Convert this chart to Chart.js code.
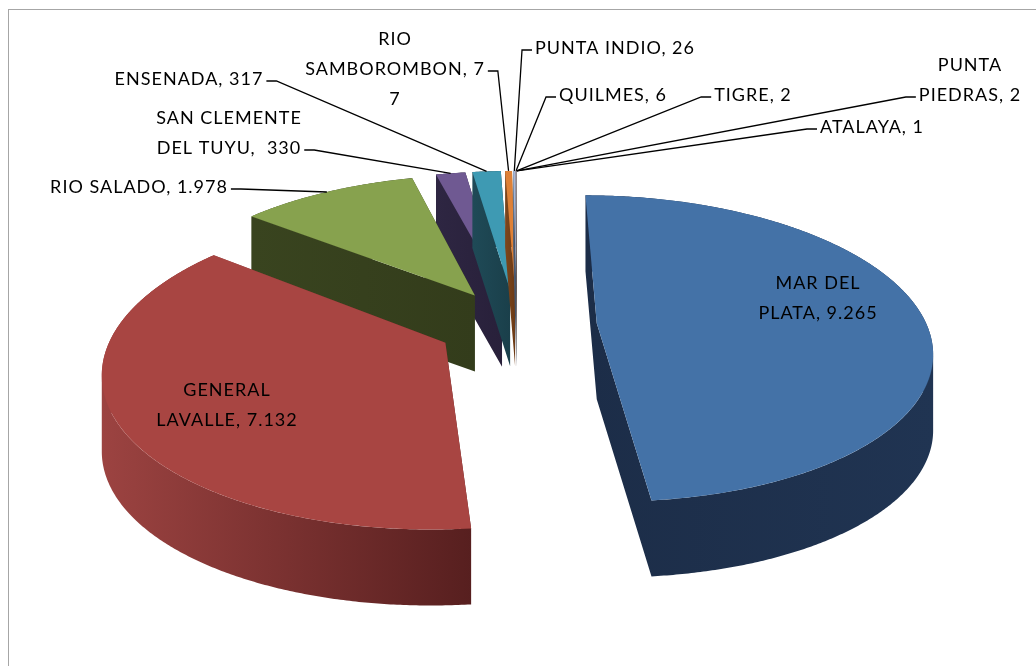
<!DOCTYPE html>
<html lang="es">
<head>
<meta charset="UTF-8">
<title>Pie 3D</title>
<style>
    html, body { margin: 0; padding: 0; overflow: hidden; background: #ffffff; }
    .frame {
        position: absolute;
        left: 8px;
        top: 9px;
        width: 1100px;
        height: 720px;
        border: 1px solid #a6a6a6;
    }
    #chart { position: absolute; left: 0; top: 0; }
</style>
</head>
<body>
<div class="frame"></div>
<canvas id="chart" width="1036" height="666"></canvas>

<script src="https://cdn.jsdelivr.net/npm/chart.js@4"></script>
<script>
// data
const places = ['MAR DEL PLATA', 'GENERAL LAVALLE', 'RIO SALADO', 'SAN CLEMENTE DEL TUYU', 'ENSENADA',
    'RIO SAMBOROMBON', 'PUNTA INDIO', 'QUILMES', 'TIGRE', 'PUNTA PIEDRAS', 'ATALAYA'];
const values = [9265, 7132, 1978, 330, 317, 77, 26, 6, 2, 2, 1];
const labelLines = [
    ['MAR DEL', 'PLATA, 9.265'],
    ['GENERAL', 'LAVALLE, 7.132'],
    ['RIO SALADO, 1.978'],
    ['SAN CLEMENTE', 'DEL TUYU,  330'],
    ['ENSENADA, 317'],
    ['RIO', 'SAMBOROMBON, 7', '7'],
    ['PUNTA INDIO, 26'],
    ['QUILMES, 6'],
    ['TIGRE, 2'],
    ['PUNTA', 'PIEDRAS, 2'],
    ['ATALAYA, 1']
];

// colours
const faceColors = ['#4472a7', '#a84542', '#87a24e', '#6f5992', '#3e9ab3', '#de8137',
    '#a5b8d8', '#c47b79', '#b4c98a', '#a596bf', '#8fc6d6'];
const wallLight = ['#1c2d48', '#9c4341', '#39441f', '#2e2642', '#1f4a57', '#7d461c',
    '#4d5d75', '#5a3231', '#4b5630', '#433a55', '#2f5863'];
const wallDark = ['#203452', '#571f1f', '#333c1b', '#28203a', '#1a3f4a', '#6a3914',
    '#404e63', '#4a2928', '#3e4828', '#382f48', '#274a53'];

// 3d look: tilt, perspective, depth and explosion
const tiltY = 0.453, persp = 0.0005, depth = 76, explode = 80;
const drawOrder = [3, 4, 5, 6, 7, 8, 9, 10, 2, 0, 1];

// label layout
const labelPos = [[818, 298], [227, 405], [139, 187], [229, 133], [189, 79], [395, 69],
    [615, 48], [613, 95], [753, 95], [970, 80], [872, 127]];
const leaderRow = [null, null, 0, 1, 0, 1, 0, 0, 0, 1, 0];
const lineGap = 30;

function shift(el) {
    const mid = (el.startAngle + el.endAngle) / 2;
    return [explode * Math.cos(mid), explode * Math.sin(mid)];
}

// library point on the flat pie -> point on the tilted, exploded pie
function project(el, px, py) {
    const [ex, ew] = shift(el);
    const u = px - el.x + ex, w = py - el.y + ew;
    const q = 1 / (1 - persp * w);
    return [el.x + u * q, el.y + tiltY * w * q];
}

function outline(el) {
    const R = el.outerRadius;
    const pts = [project(el, el.x, el.y)];
    const n = Math.max(1, Math.ceil((el.endAngle - el.startAngle) / 0.008));
    for (let j = 0; j <= n; j++) {
        const a = el.startAngle + (el.endAngle - el.startAngle) * j / n;
        pts.push(project(el, el.x + R * Math.cos(a), el.y + R * Math.sin(a)));
    }
    return pts;
}

function drawWall(ctx, el, i) {
    const pts = outline(el);
    const xs = pts.map(p => p[0]);
    const g = ctx.createLinearGradient(Math.min(...xs), 0, Math.max(...xs) + 1, 0);
    g.addColorStop(0, wallLight[i]);
    g.addColorStop(1, wallDark[i]);
    ctx.beginPath();
    for (let j = 0; j < pts.length; j++) {
        let a = pts[j], b = pts[(j + 1) % pts.length];
        if (b[0] < a[0]) [a, b] = [b, a];
        ctx.moveTo(a[0], a[1]);
        ctx.lineTo(a[0], a[1] + depth);
        ctx.lineTo(b[0], b[1] + depth);
        ctx.lineTo(b[0], b[1]);
        ctx.closePath();
    }
    ctx.fillStyle = g;
    ctx.fill();
}

// top face drawn by the arc element itself, one screen row at a time
function drawTop(chart, el) {
    const ctx = chart.ctx;
    const [ex, ew] = shift(el);
    const ys = outline(el).map(p => p[1]);
    const y0 = Math.floor(Math.min(...ys)) - 1, y1 = Math.ceil(Math.max(...ys)) + 1;
    for (let y = y0; y < y1; y++) {
        const yy = (y + 0.5 - el.y) / tiltY;
        const wm = yy / (1 + persp * yy);
        const q = 1 / (1 - persp * wm);
        const s = tiltY * q * q;
        ctx.save();
        ctx.beginPath();
        ctx.rect(0, y, chart.width, 1);
        ctx.clip();
        ctx.transform(q, 0, 0, s, el.x + q * (ex - el.x), y + 0.5 + s * (ew - wm - el.y));
        el.draw(ctx);
        ctx.restore();
    }
}

const pie3d = {
    id: 'pie3d',
    beforeDatasetsDraw(chart) {
        const arcs = chart.getDatasetMeta(0).data;
        drawOrder.forEach(i => {
            drawWall(chart.ctx, arcs[i], i);
            drawTop(chart, arcs[i]);
        });
        return false;
    }
};

const sliceLabels = {
    id: 'sliceLabels',
    afterDraw(chart) {
        const ctx = chart.ctx;
        const arcs = chart.getDatasetMeta(0).data;
        ctx.save();
        ctx.font = '18px Lato, "Open Sans", sans-serif';
        ctx.letterSpacing = '1px';
        ctx.fillStyle = '#000000';
        ctx.strokeStyle = '#000000';
        ctx.lineWidth = 1.3;
        ctx.textAlign = 'center';
        ctx.textBaseline = 'middle';
        arcs.forEach((el, i) => {
            const lines = labelLines[i];
            const [cx, cy] = labelPos[i];
            const top = cy - (lines.length - 1) * lineGap / 2;
            lines.forEach((t, j) => ctx.fillText(t, cx, top + j * lineGap));
            const row = leaderRow[i];
            if (row === null) return;
            const mid = (el.startAngle + el.endAngle) / 2;
            const tip = project(el, el.x + el.outerRadius * Math.cos(mid), el.y + el.outerRadius * Math.sin(mid));
            const w = ctx.measureText(lines[row]).width;
            const y = top + row * lineGap + 2;
            const onLeft = tip[0] > cx;
            const x0 = onLeft ? cx + w / 2 + 3 : cx - w / 2 - 3;
            const x1 = onLeft ? x0 + 10 : x0 - 10;
            ctx.beginPath();
            ctx.moveTo(x0, y);
            ctx.lineTo(x1, y);
            ctx.lineTo(tip[0], tip[1]);
            ctx.stroke();
        });
        ctx.restore();
    }
};

new Chart(document.getElementById('chart'), {
    type: 'pie',
    data: {
        labels: places,
        datasets: [{
            data: values,
            backgroundColor: faceColors,
            borderWidth: 0
        }]
    },
    options: {
        responsive: false,
        animation: false,
        rotation: 0,
        radius: 330,
        layout: { padding: { left: 0, right: 2, top: 0, bottom: 16 } },
        plugins: {
            legend: { display: false },
            tooltip: { enabled: false }
        }
    },
    plugins: [pie3d, sliceLabels]
});
</script>
</body>
</html>
